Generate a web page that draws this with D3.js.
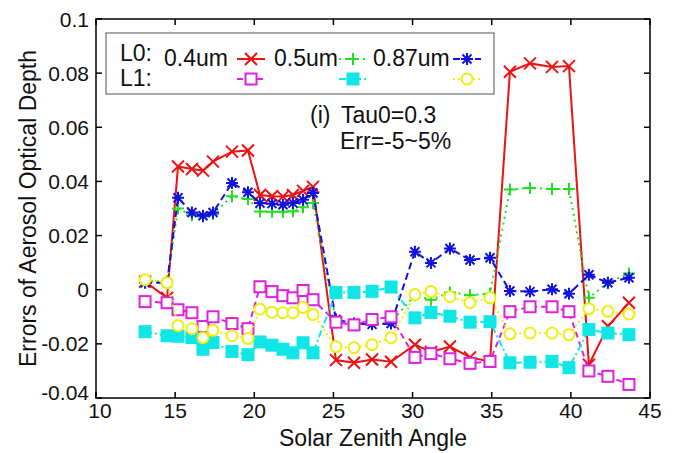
<!DOCTYPE html>
<meta charset="utf-8">
<head>
<style>
  body { margin: 0; background: #fff; }
  text { font-family: "Liberation Sans", Arial, Helvetica, sans-serif; fill: #111; }
</style>
<script src="https://d3js.org/d3.v7.min.js"></script>
</head>
<body>
<div id="chart"></div>
<script>
// solar zenith angles (shared by all series)
var sza = [13.10, 14.49, 15.18, 16.06, 16.76, 17.39, 18.59, 19.60, 20.36, 21.12,
           21.81, 22.44, 23.08, 23.71, 25.16, 26.30, 27.44, 28.64, 30.15, 31.16,
           32.36, 33.63, 34.89, 36.15, 37.42, 38.81, 39.88, 41.14, 42.34, 43.67];

// L0 retrievals
var l0_04 = [0.003, -0.003, 0.0455, 0.0446, 0.044, 0.0473, 0.051, 0.0514, 0.035, 0.0345,
             0.0344, 0.035, 0.0365, 0.038, -0.026, -0.027, -0.0258, -0.0266, -0.0203, -0.023,
             -0.021, -0.025, -0.0265, 0.0805, 0.0836, 0.0823, 0.0826, -0.0277, -0.0135, -0.0048];
var l0_05 = [0.003, 0.003, 0.030, 0.0275, 0.027, 0.028, 0.0345, 0.0335, 0.0289, 0.0288,
             0.0288, 0.029, 0.0305, 0.032, -0.0115, -0.0125, -0.0125, -0.012, -0.002, -0.0037,
             -0.001, -0.002, -0.0015, 0.037, 0.0376, 0.0372, 0.0372, -0.003, 0.0026, 0.006];
var l0_087 = [0.0026, 0.0026, 0.034, 0.0285, 0.0273, 0.0285, 0.0394, 0.036, 0.032, 0.0318,
              0.0314, 0.032, 0.0332, 0.0357, -0.011, -0.0125, -0.0128, -0.0125, 0.014, 0.0099,
              0.0152, 0.011, 0.0118, -0.0005, -0.0007, 0.0002, -0.0015, 0.0055, 0.0026, 0.0044];
// L1 retrievals
var l1_04 = [-0.0044, -0.0048, -0.0074, -0.0085, -0.0136, -0.010, -0.0125, -0.0144, 0.0011, -0.0007,
             -0.0022, -0.003, -0.0003, -0.0037, -0.012, -0.013, -0.011, -0.010, -0.025, -0.0236,
             -0.0255, -0.0272, -0.0265, -0.0081, -0.0063, -0.0063, -0.0081, -0.030, -0.032, -0.035];
var l1_05 = [-0.0155, -0.017, -0.0172, -0.0177, -0.022, -0.0195, -0.0228, -0.024, -0.0193, -0.0205,
             -0.022, -0.0233, -0.0196, -0.0233, -0.001, -0.001, -0.0006, 0.001, -0.0104, -0.0084,
             -0.0098, -0.012, -0.0118, -0.027, -0.0268, -0.0265, -0.0288, -0.0147, -0.016, -0.0166];
var l1_087 = [0.0037, 0.0026, -0.0133, -0.0144, -0.0177, -0.015, -0.017, -0.018, -0.0072, -0.0083,
              -0.0085, -0.0085, -0.0066, -0.0092, -0.021, -0.0214, -0.0203, -0.0177, -0.0018, -0.0007,
              -0.0026, -0.0048, -0.003, -0.0163, -0.016, -0.016, -0.0166, -0.007, -0.008, -0.009];

var xTicks = [10, 15, 20, 25, 30, 35, 40, 45];
var yTicks = [-0.04, -0.02, 0, 0.02, 0.04, 0.06, 0.08, 0.1];
var yTickLabels = ["-0.04", "-0.02", "0", "0.02", "0.04", "0.06", "0.08", "0.1"];

var series = [
  {vals: l0_04,  color: "#ee1111", dash: null,        mark: "x"},
  {vals: l0_05,  color: "#22dd22", dash: "2,4",       mark: "+"},
  {vals: l0_087, color: "#1111dd", dash: "7,4",       mark: "*"},
  {vals: l1_04,  color: "#dd22dd", dash: "6,4",       mark: "sq"},
  {vals: l1_05,  color: "#11e6e6", dash: "7,3,2,3",   mark: "fsq"},
  {vals: l1_087, color: "#eeee11", dash: "2,3",       mark: "o"}
];

var W = 675, H = 453;
var pLeft = 96, pRight = 650, pTop = 19, pBottom = 398;

var x = d3.scaleLinear().domain([10, 45]).range([pLeft, pRight]);
var y = d3.scaleLinear().domain([-0.04, 0.1]).range([pBottom, pTop]);

var svg = d3.select("#chart").append("svg")
    .attr("width", W).attr("height", H);

svg.append("rect").attr("width", W).attr("height", H).attr("fill", "#fff");

// markers
function drawMarker(g, type, color, cx, cy) {
    var s = 6;
    if (type == "x") {
        g.append("path").attr("d", "M" + (cx - s) + "," + (cy - s) + "L" + (cx + s) + "," + (cy + s) +
            "M" + (cx - s) + "," + (cy + s) + "L" + (cx + s) + "," + (cy - s))
            .attr("stroke", color).attr("stroke-width", 2).attr("fill", "none");
    } else if (type == "+") {
        g.append("path").attr("d", "M" + (cx - s) + "," + cy + "L" + (cx + s) + "," + cy +
            "M" + cx + "," + (cy - s) + "L" + cx + "," + (cy + s))
            .attr("stroke", color).attr("stroke-width", 2).attr("fill", "none");
    } else if (type == "*") {
        var d = s * 0.75;
        g.append("path").attr("d", "M" + (cx - s) + "," + cy + "L" + (cx + s) + "," + cy +
            "M" + cx + "," + (cy - s) + "L" + cx + "," + (cy + s) +
            "M" + (cx - d) + "," + (cy - d) + "L" + (cx + d) + "," + (cy + d) +
            "M" + (cx - d) + "," + (cy + d) + "L" + (cx + d) + "," + (cy - d))
            .attr("stroke", color).attr("stroke-width", 2).attr("fill", "none");
    } else if (type == "sq" || type == "fsq") {
        g.append("rect").attr("x", cx - 5.5).attr("y", cy - 5.5)
            .attr("width", 11).attr("height", 11)
            .attr("fill", type == "fsq" ? color : "#fff")
            .attr("stroke", color).attr("stroke-width", 2);
    } else if (type == "o") {
        g.append("circle").attr("cx", cx).attr("cy", cy).attr("r", 5.5)
            .attr("fill", "#fff").attr("stroke", color).attr("stroke-width", 2);
    }
}

var line = d3.line()
    .x(function (d, i) { return x(sza[i]); })
    .y(function (d) { return y(d); });

var plot = svg.append("g");
series.forEach(function (s) {
    var g = plot.append("g");
    g.append("path").datum(s.vals)
        .attr("d", line)
        .attr("fill", "none")
        .attr("stroke", s.color)
        .attr("stroke-width", 2)
        .attr("stroke-dasharray", s.dash);
    s.vals.forEach(function (v, i) {
        drawMarker(g, s.mark, s.color, x(sza[i]), y(v));
    });
});

// frame and inward ticks
var axes = svg.append("g").attr("stroke", "#000").attr("stroke-width", 1.5);
axes.append("rect").attr("x", pLeft).attr("y", pTop)
    .attr("width", pRight - pLeft).attr("height", pBottom - pTop)
    .attr("fill", "none");
var tl = 6;
xTicks.forEach(function (t) {
    axes.append("line").attr("x1", x(t)).attr("x2", x(t)).attr("y1", pBottom).attr("y2", pBottom - tl);
    axes.append("line").attr("x1", x(t)).attr("x2", x(t)).attr("y1", pTop).attr("y2", pTop + tl);
});
yTicks.forEach(function (t) {
    axes.append("line").attr("x1", pLeft).attr("x2", pLeft + tl).attr("y1", y(t)).attr("y2", y(t));
    axes.append("line").attr("x1", pRight).attr("x2", pRight - tl).attr("y1", y(t)).attr("y2", y(t));
});

// tick labels
svg.append("g").selectAll("text").data(xTicks).enter().append("text")
    .attr("x", function (d) { return x(d) + (d == 10 ? 4 : 0); })
    .attr("y", 418)
    .attr("text-anchor", "middle")
    .style("font-size", "21px")
    .text(function (d) { return d; });

// lowest label sits a little higher so it clears the "10"
svg.append("g").selectAll("text").data(yTicks).enter().append("text")
    .attr("x", 89)
    .attr("y", function (d, i) { return y(d) - (i == 0 ? 6 : 0); })
    .attr("dy", "0.36em")
    .attr("text-anchor", "end")
    .style("font-size", "21px")
    .text(function (d, i) { return yTickLabels[i]; });

// axis titles
svg.append("text")
    .attr("x", (pLeft + pRight) / 2).attr("y", 446)
    .attr("text-anchor", "middle")
    .style("font-size", "23px")
    .text("Solar Zenith Angle");

svg.append("text")
    .attr("transform", "translate(36," + ((pTop + pBottom) / 2) + ") rotate(-90)")
    .attr("text-anchor", "middle")
    .style("font-size", "23px")
    .text("Errors of Aerosol Optical Depth");

// legend
var leg = svg.append("g");
leg.append("rect").attr("x", 106).attr("y", 33).attr("width", 388).attr("height", 61)
    .attr("fill", "#fff").attr("stroke", "#555").attr("stroke-width", 1);
leg.append("text").attr("x", 120).attr("y", 61).style("font-size", "23px").text("L0:");
leg.append("text").attr("x", 120).attr("y", 86).style("font-size", "23px").text("L1:");
var bands = ["0.4um", "0.5um", "0.87um"];
var bandX = [164, 274, 373];
var sampleX = [237, 339, 453];
bands.forEach(function (b, i) {
    leg.append("text").attr("x", bandX[i]).attr("y", 66).style("font-size", "23px").text(b);
});
[[0, 59], [1, 59], [2, 59], [3, 79], [4, 79], [5, 79]].forEach(function (r, k) {
    var s = series[k], x0 = sampleX[k % 3], ly = r[1];
    leg.append("line").attr("x1", x0).attr("x2", x0 + 28).attr("y1", ly).attr("y2", ly)
        .attr("stroke", s.color).attr("stroke-width", 2).attr("stroke-dasharray", s.dash);
    drawMarker(leg, s.mark, s.color, x0 + 14, ly);
});

// annotation
svg.append("text").attr("x", 310).attr("y", 123).style("font-size", "23px").text("(i)");
svg.append("text").attr("x", 341).attr("y", 123).style("font-size", "23px").text("Tau0=0.3");
svg.append("text").attr("x", 340).attr("y", 149).style("font-size", "23px").text("Err=-5~5%");
</script>
</body>
